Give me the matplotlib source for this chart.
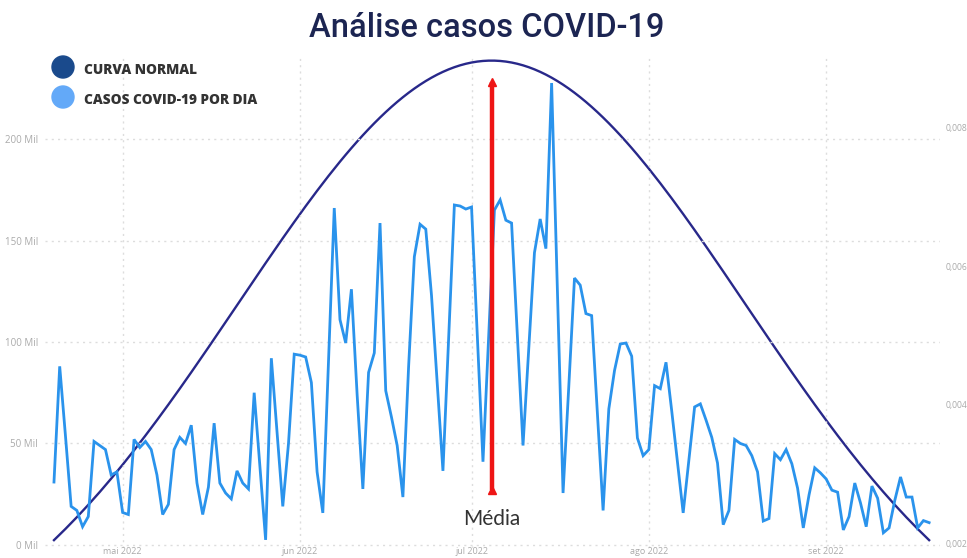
import numpy as np
import pandas as pd
import matplotlib
matplotlib.use("Agg")
import matplotlib.pyplot as plt
import matplotlib.dates as mdates

# ---------------- data ----------------
start_date = "2022-04-19"
casos_mil = [
    31, 88, 54, 19, 17, 9, 14, 51, 49, 47,
    34.5, 36, 16, 15, 52, 48, 51, 47, 34.5, 15,
    20, 47, 53, 50, 59, 30.5, 15, 28.5, 60, 30.5,
    25.6, 22.7, 36.5, 30.5, 27.6, 75, 39, 2.5, 92, 55.6,
    19, 50, 94, 93.5, 92.6, 80, 36, 15.8, 91, 166,
    111, 99.5, 126, 74, 27.6, 85, 94.6, 158.6, 76, 63,
    49, 23.6, 88, 142, 158, 155.6, 123, 80, 36.5, 102,
    167.5, 167, 165.5, 166.5, 104, 41, 103, 165, 170, 160,
    158.6, 104, 49, 96.5, 144, 160.6, 146, 227.6, 126.6, 25.6,
    78, 131.5, 128, 114, 113, 65, 17, 67, 86, 99,
    99.5, 93, 52.7, 44, 47, 78.5, 77, 90, 66, 41,
    15.8, 42, 68, 69.5, 61.5, 53, 40.4, 10, 17, 52,
    50, 49, 44, 36, 11.8, 13, 45, 42, 47, 40,
    28, 8.4, 24.6, 38, 35.5, 32.5, 27, 26, 7.4, 14,
    30.5, 20.7, 9, 29, 23, 6, 8.4, 22, 33.5, 23.6,
    23.6, 8.4, 12, 11,
]
left_ticks = [0, 50, 100, 150, 200]
left_labels = ["0 Mil", "50 Mil", "100 Mil", "150 Mil", "200 Mil"]
right_ticks = [0.002, 0.004, 0.006, 0.008]
right_labels = ["0,002", "0,004", "0,006", "0,008"]
month_ticks = ["2022-05-01", "2022-06-01", "2022-07-01", "2022-08-01", "2022-09-01"]
month_labels = ["mai 2022", "jun 2022", "jul 2022", "ago 2022", "set 2022"]
media_range = [27, 228]
legend_labels = ["CURVA NORMAL", "CASOS COVID-19 POR DIA"]
title = "Análise casos COVID-19"

# ---------------- derived ----------------
dates = pd.date_range(start_date, periods=len(casos_mil), freq="D")
t = np.arange(len(dates), dtype=float)
mu = t.mean()
sd = t.std()
curva = np.exp(-0.5 * ((t - mu) / sd) ** 2) / (sd * np.sqrt(2 * np.pi))
mean_date = dates[0] + pd.Timedelta(days=mu)

# ---------------- figure ----------------
W, H = 967, 558
fig = plt.figure(figsize=(W / 100, H / 100), dpi=100)
fig.patch.set_facecolor("white")

ax_l, ax_r, ax_t, ax_b = 45, 940, 55, 548
ax = fig.add_axes([ax_l / W, 1 - ax_b / H, (ax_r - ax_l) / W, (ax_b - ax_t) / H])
ax2 = ax.twinx()

x0 = mdates.date2num(dates[0])
ax.set_xlim(x0 - 1.57, x0 + 154.9)
ax.set_ylim(-1.5, 241.4)
ax2.set_ylim(0.001928, 0.009055)

grid_c = "#dddddd"
for v in left_ticks:
    ax.axhline(v, color=grid_c, lw=1, ls=(0, (1.5, 3)), zorder=0)
for m in month_ticks:
    ax.axvline(mdates.date2num(pd.Timestamp(m)), color=grid_c, lw=1, ls=(0, (1.5, 3)), zorder=0)

ax.plot(dates, casos_mil, color="#2a93ec", lw=2.0, zorder=3, solid_joinstyle="miter")
ax2.plot(dates, curva, color="#28288a", lw=1.7, zorder=2)

# Média line on left axis
ax.plot([mean_date, mean_date], media_range, color="#ee1515", lw=3.2, zorder=5,
        solid_capstyle="butt")
ax.plot([mean_date], [media_range[1]], marker="^", color="#ee1515", ms=6, zorder=6)
ax.plot([mean_date], [media_range[0]], marker="^", color="#ee1515", ms=6, zorder=6)
ax.text(mean_date, 13.0, "Média", ha="center", va="center", fontsize=15,
        family="Lato", color="#333333", zorder=6)

for a in (ax, ax2):
    for s in a.spines.values():
        s.set_visible(False)
    a.tick_params(length=0)

ax.set_yticks(left_ticks)
ax.set_yticklabels(left_labels, fontsize=7, color="#aaaaaa", family="Open Sans")
ax.tick_params(axis="y", pad=5)
ax2.set_yticks(right_ticks)
ax2.set_yticklabels(right_labels, fontsize=6.2, color="#aaaaaa", family="Open Sans")
ax2.tick_params(axis="y", pad=4)
ax.set_xticks([mdates.date2num(pd.Timestamp(m)) for m in month_ticks])
ax.set_xticklabels(month_labels, fontsize=6.5, color="#aaaaaa", family="Open Sans")
ax.tick_params(axis="x", pad=-1)

ax.set_zorder(ax2.get_zorder() + 1)
ax.patch.set_visible(False)

# title
fig.text(487 / W, 1 - 28 / H, title, ha="center", va="center", fontsize=23.5,
         family="Roboto", weight="medium", color="#1c2552")

# legend
leg_colors = ["#1a4a8c", "#63a9f8"]
leg_y = [67, 97]
for c, ly, lab in zip(leg_colors, leg_y, legend_labels):
    fig.patches.append(matplotlib.patches.Ellipse((63 / W, 1 - ly / H), 22 / W, 22 / H,
                                                  transform=fig.transFigure, color=c))
    fig.text(84 / W, 1 - (ly + 3) / H, lab, ha="left", va="center", fontsize=9.8,
             family="Open Sans", weight="heavy", color="#333333")

fig.savefig("out.png", dpi=100, facecolor="white")
